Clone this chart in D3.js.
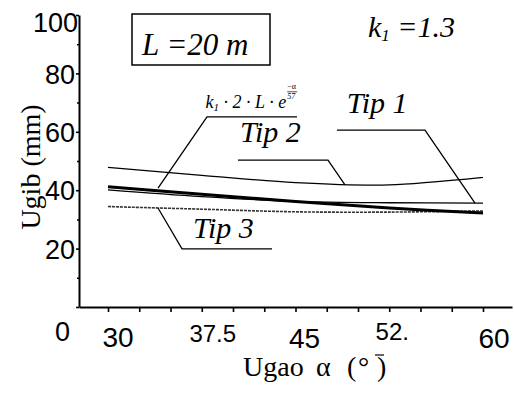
<!DOCTYPE html>
<html>
<head>
<meta charset="utf-8">
<script src="https://cdn.jsdelivr.net/npm/d3@7"></script>
<style>
  body { margin: 0; background: #fff; }
  svg { display: block; }
</style>
</head>
<body>
<svg id="chart" width="514" height="409"></svg>
<script>
const svg = d3.select('#chart')
const SERIF = '"Liberation Serif", "Times New Roman", serif'
const SANS = '"Liberation Sans", Arial, sans-serif'

// angles (deg) and deflection values (mm)
const angles = [30, 37.5, 45, 52.5, 60]
const tip2 = [47.8, 45.1, 42.6, 41.8, 44.4]
const formula = [41.2, 38.6, 36.1, 33.9, 32.2]
const tip1 = [40.1, 37.8, 36.2, 35.7, 35.6]
const tip3 = [34.4, 33.5, 32.6, 32.5, 32.9]

const yTicks = [0, 20, 40, 60, 80, 100]
const yMinor = [10, 30, 50, 70, 90]
const xTickLabels = ['30', '37.5', '45', '52.', '60']

// x axis line runs a bit beyond 30..60 on both sides
const x = d3.scaleLinear().domain([27.68, 62.32]).range([79, 512])
const y = d3.scaleLinear().domain([0, 100]).range([307, 15])

// ---- axes
const gx = svg.append('g')
  .attr('transform', 'translate(0,' + y(0) + ')')
  .call(d3.axisBottom(x).tickValues(d3.range(30, 60.01, 2.5)).tickSize(5).tickSizeOuter(0).tickFormat(''))
gx.select('.domain').attr('stroke-width', 2)
gx.selectAll('.tick line').attr('stroke-width', 1.6)

const gy = svg.append('g')
  .attr('transform', 'translate(' + x(27.68) + ',0)')
  .call(d3.axisLeft(y).tickValues(yTicks).tickSize(3).tickSizeOuter(0).tickPadding(1))
gy.select('.domain').attr('stroke-width', 2)
gy.selectAll('.tick line').attr('stroke-width', 1.6)
gy.selectAll('.tick text')
  .attr('font-family', SANS)
  .attr('font-size', 27)
  .attr('fill', '#000')
  .attr('dy', d => d === 100 ? '0.62em' : d === 0 ? '1.25em' : '0.36em')
  .attr('dx', d => d === 100 ? 3 : d === 0 ? -5 : 0)

svg.append('g')
  .attr('transform', 'translate(' + x(27.68) + ',0)')
  .call(d3.axisLeft(y).tickValues(yMinor).tickSize(2).tickFormat(''))
  .call(g => g.select('.domain').remove())
  .selectAll('.tick line').attr('stroke-width', 1.5)

// x tick labels (scan puts them a bit right of the ticks, alternate sizes)
const labSize = [28, 24, 28, 24, 28]
const labDx = [10, 11, 9, 3, 11]
const labBase = [347, 342, 348, 340, 348]
svg.append('g').selectAll('text')
  .data(angles)
  .join('text')
  .attr('font-family', SANS)
  .attr('text-anchor', 'middle')
  .attr('x', (d, i) => x(d) + labDx[i])
  .attr('y', (d, i) => labBase[i])
  .attr('font-size', (d, i) => labSize[i])
  .text((d, i) => xTickLabels[i])

// axis titles
svg.append('text')
  .attr('font-family', SERIF)
  .attr('font-size', 28)
  .attr('text-anchor', 'middle')
  .attr('transform', 'translate(40,167) rotate(-90)')
  .text('Ugib (mm)')

const xt = svg.append('text')
  .attr('font-family', SERIF)
  .attr('font-size', 28)
  .attr('y', 376)
xt.append('tspan').attr('x', 243).text('Ugao')
xt.append('tspan').attr('x', 316).text('α')
xt.append('tspan').attr('x', 347).text('(')
xt.append('tspan').attr('x', 358).text('°')
xt.append('tspan').attr('x', 377).text(')')
svg.append('line').attr('stroke', '#000').attr('stroke-width', 1.2)
  .attr('x1', 375).attr('x2', 384).attr('y1', 355).attr('y2', 355)

// ---- series
const line = d3.line()
  .x(d => x(d[0]))
  .y(d => y(d[1]))
  .curve(d3.curveCatmullRom)

const series = [
  { vals: tip3, width: 1.6, dash: '3,1', color: '#333' },
  { vals: tip2, width: 1.3, dash: null, color: '#000' },
  { vals: tip1, width: 1.3, dash: null, color: '#000' },
  { vals: formula, width: 3, dash: null, color: '#000' }
]
svg.append('g').selectAll('path')
  .data(series)
  .join('path')
  .attr('fill', 'none')
  .attr('stroke', d => d.color)
  .attr('stroke-width', d => d.width)
  .attr('stroke-dasharray', d => d.dash)
  .attr('d', d => line(angles.map((a, i) => [a, d.vals[i]])))

// ---- annotations (leader lines in data units)
const leaders = [
  [[48.32, 60.6], [55.36, 60.6], [59.36, 35.6]],   // Tip 1
  [[40.4, 50.3], [47.6, 50.3], [48.96, 41.8]],     // Tip 2
  [[34.0, 33.9], [35.92, 19.9], [43.12, 19.9]],    // Tip 3
  [[34.0, 40.75], [37.92, 65.1], [45.12, 65.1]]    // formula
]
svg.append('g').selectAll('path')
  .data(leaders)
  .join('path')
  .attr('fill', 'none')
  .attr('stroke', '#000')
  .attr('stroke-width', 1.3)
  .attr('d', d3.line().x(d => x(d[0])).y(d => y(d[1])))

const tipLabels = [
  { t: 'Tip 1', a: 49.1, v: 66.4 },
  { t: 'Tip 2', a: 40.56, v: 56.5 },
  { t: 'Tip 3', a: 36.8, v: 23.6 }
]
svg.append('g').selectAll('text')
  .data(tipLabels)
  .join('text')
  .attr('font-family', SERIF)
  .attr('font-style', 'italic')
  .attr('font-size', 30)
  .attr('x', d => x(d.a))
  .attr('y', d => y(d.v))
  .text(d => d.t)

// formula label, exponent placed right after the "e"
const fx = x(37.8)
const f = svg.append('text')
  .attr('font-family', SERIF)
  .attr('font-style', 'italic')
  .attr('font-size', 18)
  .attr('x', fx)
  .attr('y', y(68.2))
  .attr('xml:space', 'preserve')
f.append('tspan').text('k')
f.append('tspan').attr('font-size', 11).attr('dy', 3).text('1')
f.append('tspan').attr('dy', -3).text(' · 2 · L · e')
const ex = fx + f.node().getComputedTextLength() + 1
svg.append('text').attr('font-family', SERIF).attr('font-size', 8)
  .attr('x', ex).attr('y', y(74.6)).text('−α')
svg.append('line').attr('stroke', '#000').attr('stroke-width', 0.7)
  .attr('x1', ex).attr('x2', ex + 10).attr('y1', y(73.7)).attr('y2', y(73.7))
svg.append('text').attr('font-family', SERIF).attr('font-style', 'italic').attr('font-size', 8)
  .attr('x', ex).attr('y', y(71.2)).text('57')

// L box
svg.append('rect')
  .attr('x', 132).attr('y', 14)
  .attr('width', 138).attr('height', 51)
  .attr('fill', 'none').attr('stroke', '#000').attr('stroke-width', 1.5)
svg.append('text')
  .attr('font-family', SERIF)
  .attr('font-style', 'italic')
  .attr('font-size', 31)
  .attr('x', 142).attr('y', 55)
  .attr('xml:space', 'preserve')
  .text('L =20 m')

// k1 label
const k = svg.append('text')
  .attr('font-family', SERIF)
  .attr('font-style', 'italic')
  .attr('font-size', 30)
  .attr('x', 368).attr('y', 37)
  .attr('xml:space', 'preserve')
k.append('tspan').text('k')
k.append('tspan').attr('font-size', 17).attr('dy', 4).text('1')
k.append('tspan').attr('dy', -4).text(' =1.3')
</script>
</body>
</html>
